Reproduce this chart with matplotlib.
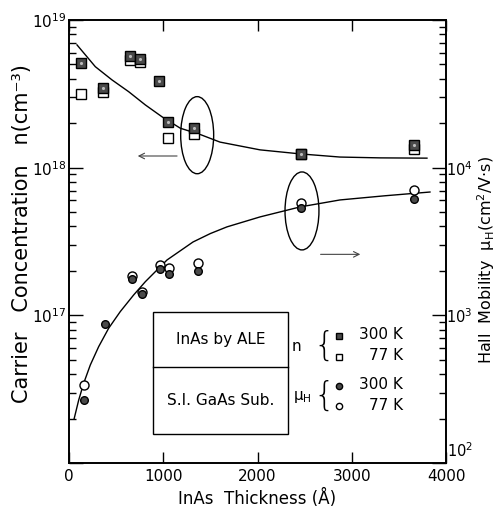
import math
import matplotlib.pyplot as plt
import matplotlib.ticker as ticker
from matplotlib.patches import Ellipse, Rectangle

# carrier concentration n (cm^-3), squares
n_x_300 = [127, 357, 651, 757, 955, 1047, 1326, 2462, 3660]
n_300 = [5.14e18, 3.48e18, 5.67e18, 5.47e18, 3.86e18, 2.05e18, 1.85e18, 1.24e18, 1.43e18]
n_x_77 = [127, 357, 651, 757, 1047, 1326, 2462, 3660]
n_77 = [3.14e18, 3.24e18, 5.36e18, 5.20e18, 1.58e18, 1.68e18, 1.23e18, 1.34e18]

# Hall mobility (cm2/V.s), circles
mu_x_300 = [159, 379, 665, 771, 966, 1064, 1365, 2462, 3660]
mu_300 = [267, 871, 1755, 1395, 2050, 1898, 2010, 5310, 6110]
mu_x_77 = [159, 665, 771, 966, 1064, 1365, 2462, 3660]
mu_77 = [338, 1849, 1445, 2193, 2083, 2275, 5740, 7060]

# fitted curves
n_fit_x = [85, 279, 456, 633, 810, 987, 1181, 1400, 1602, 2027, 2451, 2875, 3300, 3798]
n_fit = [6.78e18, 4.83e18, 3.93e18, 3.27e18, 2.66e18, 2.21e18, 1.85e18, 1.67e18,
         1.49e18, 1.32e18, 1.24e18, 1.18e18, 1.165e18, 1.16e18]
mu_fit_x = [55, 103, 156, 226, 315, 421, 544, 686, 810, 1040, 1316, 1500, 1676, 2027, 2451, 2875, 3350, 3830]
mu_fit = [200, 267, 347, 461, 614, 818, 1060, 1374, 1690, 2371, 3139, 3580, 3972, 4640, 5420, 6045, 6450, 6840]

plt.rcParams['font.family'] = ['DejaVu Sans']
plt.rcParams['mathtext.fontset'] = 'dejavusans'

fig = plt.figure(figsize=(4.96, 5.16), dpi=100)
ax = fig.add_axes([69/496, 1-463/516, 377/496, 443/516])
ax2 = ax.twinx()

ax.set_xlim(0, 4000)
ax.set_yscale('log')
ax.set_ylim(1e16, 1e19)
ax2.set_yscale('log')
ax2.set_ylim(1e2, 1e5)

ax.plot(n_fit_x, n_fit, color='black', lw=1.0)
ax.plot(n_x_77, n_77, 's', ms=6.5, mfc='white', mec='black', mew=1.0)
ax.plot(n_x_300, n_300, 's', ms=6.5, mfc='#4a4a4a', mec='black', mew=1.0)
ax.plot(n_x_300, n_300, '.', ms=2.5, color='#bbbbbb')

ax2.plot(mu_fit_x, mu_fit, color='black', lw=1.0)
ax2.plot(mu_x_77, mu_77, 'o', ms=6.5, mfc='white', mec='black', mew=1.0)
ax2.plot(mu_x_300, mu_300, 'o', ms=5.5, mfc='#4a4a4a', mec='black', mew=1.0)

# ticks
ax.xaxis.set_major_locator(ticker.MultipleLocator(1000))
ax.tick_params(axis='x', which='major', direction='in', top=True, length=8, width=1, labelsize=11, pad=4)
ax.tick_params(axis='y', which='major', direction='in', length=10, width=1, labelsize=11, pad=2)
ax.tick_params(axis='y', which='minor', direction='in', length=5, width=1)
ax2.tick_params(axis='y', which='major', direction='in', length=10, width=1, labelsize=10.5, pad=0)
ax2.tick_params(axis='y', which='minor', direction='in', length=5, width=1)

def left_fmt(v, pos):
    if v < 5e16:
        return ''
    return r'$10^{%d}$' % round(math.log10(v))

def right_fmt(v, pos):
    # 10^2 is drawn separately, a bit above the corner, 10^5 has no label
    if v > 5e4 or v < 5e2:
        return ''
    return r'$10^{%d}$' % round(math.log10(v))

ax.yaxis.set_major_formatter(ticker.FuncFormatter(left_fmt))
ax2.yaxis.set_major_formatter(ticker.FuncFormatter(right_fmt))
ax.yaxis.set_minor_formatter(ticker.NullFormatter())
ax2.yaxis.set_minor_formatter(ticker.NullFormatter())
ax.text(1.003, 0.006, r'$10^{2}$', transform=ax.transAxes, ha='left', va='bottom', fontsize=10.5)

for a in (ax, ax2):
    for s in a.spines.values():
        s.set_linewidth(1.2)

ax.set_xlabel('InAs  Thickness (Å)', fontsize=12, labelpad=4)
ax.set_ylabel('Carrier   Concentration   n(cm⁻³)', fontsize=15)
ax.yaxis.set_label_coords(-0.098, 0.519)
ax2.set_ylabel(r'Hall  Mobility  μ$_{\mathregular{H}}$(cm$^{2}$/V$\cdot$s)', fontsize=11.5)
ax2.yaxis.set_label_coords(1.077, 0.458)

# ellipses and arrows
ax.add_patch(Ellipse((0.340, 0.740), 0.0875, 0.174, transform=ax.transAxes, fill=False, lw=1.0, ec='black'))
ax.annotate('', xy=(0.175, 0.693), xytext=(0.294, 0.693), xycoords='axes fraction',
            arrowprops=dict(arrowstyle='->', lw=0.8, color='#444444'))
ax.add_patch(Ellipse((0.618, 0.569), 0.090, 0.176, transform=ax.transAxes, fill=False, lw=1.0, ec='black'))
ax.annotate('', xy=(0.780, 0.471), xytext=(0.660, 0.471), xycoords='axes fraction',
            arrowprops=dict(arrowstyle='->', lw=0.8, color='#444444'))

# legend box
ax.add_patch(Rectangle((0.223, 0.065), 0.358, 0.276, transform=ax.transAxes, fill=False, lw=1.0, ec='black'))
ax.plot([0.223, 0.581], [0.217, 0.217], transform=ax.transAxes, color='black', lw=1.0)
ax.text(0.402, 0.279, 'InAs by ALE', transform=ax.transAxes, ha='center', va='center', fontsize=11)
ax.text(0.402, 0.141, 'S.I. GaAs Sub.', transform=ax.transAxes, ha='center', va='center', fontsize=11)

ax.text(0.602, 0.263, 'n', transform=ax.transAxes, ha='center', va='center', fontsize=11)
ax.text(0.676, 0.263, '{', transform=ax.transAxes, ha='center', va='center', fontsize=24, fontweight='light')
ax.plot([0.716], [0.287], 's', ms=5, mfc='#4a4a4a', mec='black', transform=ax.transAxes)
ax.plot([0.716], [0.239], 's', ms=5, mfc='white', mec='black', transform=ax.transAxes)
ax.text(0.886, 0.290, '300 K', transform=ax.transAxes, ha='right', va='center', fontsize=11)
ax.text(0.886, 0.242, '77 K', transform=ax.transAxes, ha='right', va='center', fontsize=11)

ax.text(0.620, 0.150, r'μ$_{\mathregular{H}}$', transform=ax.transAxes, ha='center', va='center', fontsize=11)
ax.text(0.676, 0.150, '{', transform=ax.transAxes, ha='center', va='center', fontsize=24, fontweight='light')
ax.plot([0.716], [0.174], 'o', ms=4.5, mfc='#4a4a4a', mec='black', transform=ax.transAxes)
ax.plot([0.716], [0.129], 'o', ms=4.5, mfc='white', mec='black', transform=ax.transAxes)
ax.text(0.886, 0.177, '300 K', transform=ax.transAxes, ha='right', va='center', fontsize=11)
ax.text(0.886, 0.129, '77 K', transform=ax.transAxes, ha='right', va='center', fontsize=11)

fig.savefig('out.png', dpi=100)
